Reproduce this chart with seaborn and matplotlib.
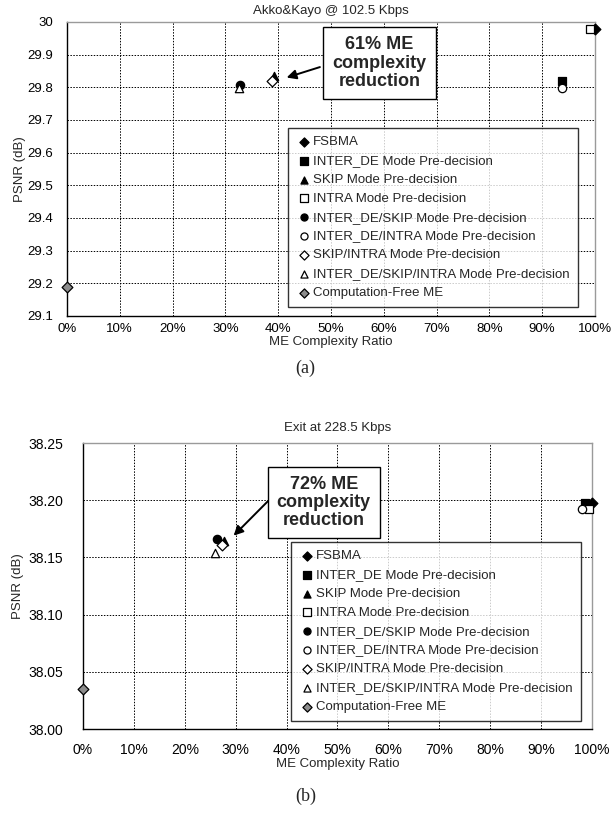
import matplotlib
matplotlib.use("Agg")
import matplotlib.pyplot as plt
import seaborn as sns
import pandas as pd

# legend entries / series
methods = ["FSBMA", "INTER_DE Mode Pre-decision", "SKIP Mode Pre-decision",
           "INTRA Mode Pre-decision", "INTER_DE/SKIP Mode Pre-decision",
           "INTER_DE/INTRA Mode Pre-decision", "SKIP/INTRA Mode Pre-decision",
           "INTER_DE/SKIP/INTRA Mode Pre-decision", "Computation-Free ME"]

# (a) Akko&Kayo @ 102.5 Kbps
ratio_a = [100, 93.8, 39.3, 99.0, 32.7, 93.8, 38.8, 32.5, 0]
psnr_a = [29.979, 29.818, 29.834, 29.979, 29.808, 29.798, 29.819, 29.798, 29.19]

# (b) Exit at 228.5 Kbps
ratio_b = [100, 98.7, 27.8, 99.4, 26.3, 98.0, 27.4, 25.9, 0]
psnr_b = [38.198, 38.198, 38.164, 38.192, 38.166, 38.192, 38.161, 38.154, 38.035]

xticks = list(range(0, 101, 10))
xticklabels = [f"{v}%" for v in xticks]
yticks_a = [29.1, 29.2, 29.3, 29.4, 29.5, 29.6, 29.7, 29.8, 29.9, 30.0]
yticklabels_a = ["29.1", "29.2", "29.3", "29.4", "29.5", "29.6", "29.7", "29.8", "29.9", "30"]
yticks_b = [38.00, 38.05, 38.10, 38.15, 38.20, 38.25]
yticklabels_b = ["38.00", "38.05", "38.10", "38.15", "38.20", "38.25"]

# marker, face colour per series
styles = {
    "FSBMA": ("D", "black"),
    "INTER_DE Mode Pre-decision": ("s", "black"),
    "SKIP Mode Pre-decision": ("^", "black"),
    "INTRA Mode Pre-decision": ("s", "white"),
    "INTER_DE/SKIP Mode Pre-decision": ("o", "black"),
    "INTER_DE/INTRA Mode Pre-decision": ("o", "white"),
    "SKIP/INTRA Mode Pre-decision": ("D", "white"),
    "INTER_DE/SKIP/INTRA Mode Pre-decision": ("^", "white"),
    "Computation-Free ME": ("D", "#8c8c8c"),
}

sns.set_style("white")
plt.rcParams["font.family"] = ["Liberation Sans", "DejaVu Sans"]

fig = plt.figure(figsize=(6.11, 8.27), dpi=100)
ax_a = fig.add_axes([0.1097, 0.6179, 0.864, 0.3555])
ax_b = fig.add_axes([0.1358, 0.1185, 0.833, 0.3458])


def draw(ax, ratio, psnr, title, ylim, yticks, yticklabels, legend_anchor,
         xpad, ypad, ylabelpad, tick_fs, title_pad):
    df = pd.DataFrame({"method": methods, "ratio": ratio, "psnr": psnr})
    for m in methods:
        mk, fc = styles[m]
        sz = 30 if mk == "D" else 36
        sns.scatterplot(data=df[df.method == m], x="ratio", y="psnr", ax=ax,
                        marker=mk, color=fc, edgecolor="black", linewidth=0.9,
                        s=sz, label=m, zorder=5, clip_on=False)
    ax.set_xlim(0, 100)
    ax.set_ylim(*ylim)
    ax.set_xticks(xticks)
    ax.set_xticklabels(xticklabels)
    ax.set_yticks(yticks)
    ax.set_yticklabels(yticklabels)
    ax.grid(True, color="black", linestyle=(0, (1.5, 1.5)), linewidth=0.7)
    ax.set_axisbelow(True)
    ax.tick_params(axis="both", direction="in", length=4, width=0.8,
                   labelsize=tick_fs, colors="black")
    ax.tick_params(axis="x", pad=xpad)
    ax.tick_params(axis="y", pad=ypad)
    for side in ("left", "bottom"):
        ax.spines[side].set_color("black")
        ax.spines[side].set_linewidth(1.0)
    for side in ("top", "right"):
        ax.spines[side].set_color("#9a9a9a")
        ax.spines[side].set_linewidth(1.0)
    ax.set_title(title, fontsize=9.5, pad=title_pad)
    ax.set_xlabel("ME Complexity Ratio", fontsize=9.5, labelpad=1)
    ax.set_ylabel("PSNR (dB)", fontsize=9.5, labelpad=ylabelpad)
    leg = ax.legend(loc="lower left", bbox_to_anchor=legend_anchor,
                    fontsize=9.5, frameon=True, fancybox=False,
                    handletextpad=0.1, labelspacing=0.5, borderpad=0.6,
                    handlelength=1.2, markerscale=0.85, borderaxespad=0)
    leg.get_frame().set_edgecolor("black")
    leg.get_frame().set_linewidth(1.0)
    leg.set_zorder(10)


draw(ax_a, ratio_a, psnr_a, "Akko&Kayo @ 102.5 Kbps", (29.1, 30.0),
     yticks_a, yticklabels_a, (0.419, 0.031), 5, 10, 1, 9.5, 6)
draw(ax_b, ratio_b, psnr_b, "Exit at 228.5 Kbps", (38.0, 38.25),
     yticks_b, yticklabels_b, (0.409, 0.028), 10, 14, 3, 10, 9)

box = dict(boxstyle="square,pad=0.5", facecolor="white", edgecolor="black", linewidth=1.0)
arrow = dict(arrowstyle="-|>", color="black", lw=1.4, mutation_scale=14, shrinkA=0, shrinkB=0)

ax_a.annotate("", xy=(41.6, 29.830), xytext=(47.9, 29.862), arrowprops=arrow, zorder=6)
ax_a.text(59.2, 29.874, "61% ME\ncomplexity\nreduction", ha="center", va="center",
          fontsize=13, fontweight="bold", linespacing=1.1, bbox=box, zorder=7)

ax_b.annotate("", xy=(29.6, 38.169), xytext=(36.3, 38.199), arrowprops=arrow, zorder=6)
ax_b.text(47.3, 38.198, "72% ME\ncomplexity\nreduction", ha="center", va="center",
          fontsize=13, fontweight="bold", linespacing=1.1, bbox=box, zorder=7)

fig.text(0.5, 1 - 368 / 827, "(a)", ha="center", va="center", fontsize=13,
         family=["Liberation Serif", "DejaVu Serif"])
fig.text(0.5, 1 - 796 / 827, "(b)", ha="center", va="center", fontsize=13,
         family=["Liberation Serif", "DejaVu Serif"])

fig.savefig("out.png", dpi=100)
